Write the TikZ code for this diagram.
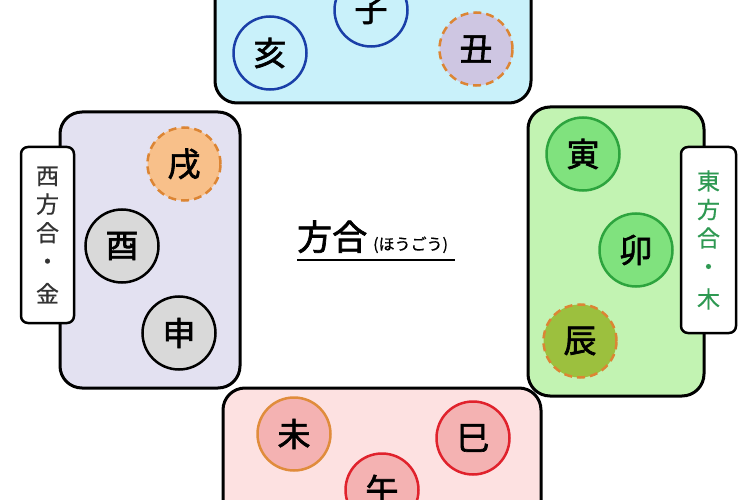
\documentclass[tikz,border=0pt]{standalone}
\usepackage{fontspec}
\newfontfamily\jp{Noto Sans CJK JP}[FakeBold=0.6]
\newfontfamily\jpb{Noto Sans CJK JP}[FakeBold=2]
\definecolor{cyanbg}{HTML}{C9F1FA}
\definecolor{lavbg}{HTML}{E3E1F1}
\definecolor{greenbg}{HTML}{C2F3B2}
\definecolor{pinkbg}{HTML}{FDE1E1}
\definecolor{dblue}{HTML}{1A3FA8}
\definecolor{dorange}{HTML}{DC8534}
\definecolor{lavfill}{HTML}{CEC6E2}
\definecolor{orfill}{HTML}{F8C08A}
\definecolor{grayfill}{HTML}{D9D9D9}
\definecolor{gfill}{HTML}{80E27E}
\definecolor{gline}{HTML}{2DA43E}
\definecolor{olive}{HTML}{9CC03E}
\definecolor{pfill}{HTML}{F4B2B2}
\definecolor{rline}{HTML}{E0222C}
\definecolor{oline}{HTML}{E08C3C}
\definecolor{gtext}{HTML}{2E9952}
\definecolor{ktext}{HTML}{333333}
\begin{document}
\begin{tikzpicture}[x=1pt,y=-1pt,
  grp/.style={line width=3pt, rounded corners=22pt, draw=black},
  br/.style={circle, minimum size=73pt, line width=2.5pt, inner sep=0pt, text=black,
    font=\jpb\fontsize{33}{33}\selectfont},
  dbr/.style={br, draw=dorange, dash pattern=on 8pt off 5pt},
  lbl/.style={draw=black, fill=white, line width=2.5pt, rounded corners=7pt,
    minimum width=53pt, align=center, inner sep=0pt,
    font=\jp\fontsize{23}{28.5}\selectfont}
]
\useasboundingbox (0,0) rectangle (750,500);
\fill[white] (0,0) rectangle (750,500);

% top group (north)
\draw[grp, fill=cyanbg] (215,-40) rectangle (531,103);
\node[br, draw=dblue, fill=cyanbg] (hai) at (270,53) {亥};
\node[br, draw=dblue, fill=cyanbg] (ne) at (371,10) {子};
\node[dbr, fill=lavfill] (ushi) at (476,49) {丑};

% left group (west)
\draw[grp, fill=lavbg] (60,112) rectangle (240,388);
\node[dbr, fill=orfill] (inu) at (184,164) {戌};
\node[br, draw=black, fill=grayfill] (tori) at (122,246) {酉};
\node[br, draw=black, fill=grayfill] (saru) at (179,333) {申};
\node[lbl, minimum height=176pt, text=ktext] (west) at (47.5,235) {西\\方\\合\\・\\[4pt]金};

% right group (east)
\draw[grp, fill=greenbg] (528,107) rectangle (704,396);
\node[br, draw=gline, fill=gfill] (tora) at (583,154) {寅};
\node[br, draw=gline, fill=gfill] (u) at (636,250) {卯};
\node[dbr, fill=olive] (tatsu) at (580,341) {辰};
\node[lbl, minimum width=55pt, minimum height=186pt, text=gtext] (east) at (708.5,240) {東\\方\\合\\・\\[4pt]木};

% bottom group (south)
\draw[grp, fill=pinkbg] (223,388) rectangle (541,540);
\node[br, draw=oline, fill=pfill] (hitsuji) at (294,434) {未};
\node[br, draw=rline, fill=pfill] (mi) at (473,438) {巳};
\node[br, draw=rline, fill=pfill] (uma) at (382,490) {午};

% title
\node[inner sep=0pt, anchor=base west] (title) at (297,250)
  {\jpb\fontsize{35}{35}\selectfont 方合\hspace{6pt}\jp\fontsize{16}{16}\selectfont(ほうごう)};
\coordinate (ul1) at (297,260);
\coordinate (ul2) at (455,260);
\draw[line width=2pt] (ul1) -- (ul2);
\end{tikzpicture}
\end{document}
